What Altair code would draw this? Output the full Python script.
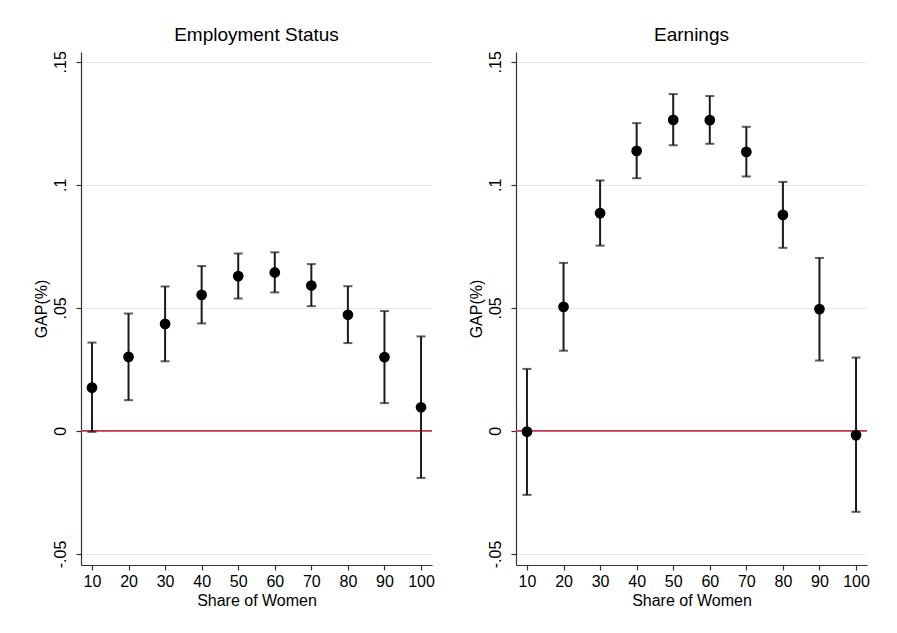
import altair as alt
import pandas as pd

share = [10, 20, 30, 40, 50, 60, 70, 80, 90, 100]

emp_est = [0.0176, 0.0301, 0.0435, 0.0553, 0.0629, 0.0644, 0.0591, 0.0472, 0.0300, 0.0096]
emp_hi = [0.0359, 0.0477, 0.0587, 0.0670, 0.0721, 0.0726, 0.0678, 0.0588, 0.0487, 0.0384]
emp_lo = [-0.0004, 0.0125, 0.0283, 0.0437, 0.0538, 0.0563, 0.0507, 0.0357, 0.0113, -0.0191]

earn_est = [-0.0003, 0.0504, 0.0885, 0.1138, 0.1264, 0.1263, 0.1134, 0.0878, 0.0495, -0.0017]
earn_hi = [0.0252, 0.0683, 0.1018, 0.1251, 0.1369, 0.1361, 0.1236, 0.1012, 0.0703, 0.0298]
earn_lo = [-0.0260, 0.0326, 0.0753, 0.1027, 0.1161, 0.1167, 0.1034, 0.0744, 0.0286, -0.0329]

y_ticks = [-0.05, 0, 0.05, 0.1, 0.15]
x_ticks = share

FONT = "Liberation Sans"

x_scale = alt.Scale(domain=[7, 103], nice=False, zero=False)
y_scale = alt.Scale(domain=[-0.0545, 0.154], nice=False, zero=False)

x_axis = alt.Axis(values=x_ticks, title="Share of Women", grid=False,
                  labelFontSize=16, titleFontSize=16, titleFontWeight="normal",
                  labelPadding=3, titlePadding=3, tickSize=5)
y_axis = alt.Axis(values=y_ticks, title="GAP(%)", grid=True, gridColor="#e3ebef",
                  gridWidth=1,
                  labelExpr="datum.value == 0 ? '0' : (datum.value < 0 ? '-' : '') + replace(format(abs(datum.value), '.2~f'), '0.', '.')",
                  labelAngle=270, labelAlign="center", labelBaseline="bottom",
                  labelFontSize=16, titleFontSize=16, titleFontWeight="normal",
                  labelPadding=8, titlePadding=3, tickSize=5)


def panel(title, est, lo, hi):
    df = pd.DataFrame({"share": share, "est": est, "lo": lo, "hi": hi})
    zero = pd.DataFrame({"z": [0.0]})
    base = alt.Chart(df)
    zero_line = alt.Chart(zero).mark_rule(color="#c8374f", strokeWidth=1.6).encode(
        y=alt.Y("z:Q", scale=y_scale, axis=y_axis)
    )
    bars = base.mark_rule(color="#1a1a1a", strokeWidth=2).encode(
        x=alt.X("share:Q", scale=x_scale, axis=x_axis),
        y=alt.Y("lo:Q", scale=y_scale, axis=y_axis),
        y2="hi:Q",
    )
    cap_lo = base.mark_tick(color="#1a1a1a", orient="horizontal", size=9, thickness=2).encode(
        x=alt.X("share:Q", scale=x_scale, axis=x_axis),
        y=alt.Y("lo:Q", scale=y_scale, axis=y_axis),
    )
    cap_hi = base.mark_tick(color="#1a1a1a", orient="horizontal", size=9, thickness=2).encode(
        x=alt.X("share:Q", scale=x_scale, axis=x_axis),
        y=alt.Y("hi:Q", scale=y_scale, axis=y_axis),
    )
    pts = base.mark_point(filled=True, color="black", size=115, opacity=1).encode(
        x=alt.X("share:Q", scale=x_scale, axis=x_axis),
        y=alt.Y("est:Q", scale=y_scale, axis=y_axis),
    )
    return alt.layer(zero_line, bars, cap_lo, cap_hi, pts).properties(
        width=351, height=513,
        title=alt.TitleParams(title, fontSize=19, fontWeight="normal", font=FONT,
                              anchor="middle", offset=6, color="black"),
    )


chart = alt.hconcat(
    panel("Employment Status", emp_est, emp_lo, emp_hi),
    panel("Earnings", earn_est, earn_lo, earn_hi),
    spacing=32,
).properties(
    padding={"left": 24, "top": 17, "right": 5, "bottom": 5},
    background="white",
).configure_view(stroke=None).configure_axis(
    labelFont=FONT, titleFont=FONT, labelColor="black", titleColor="black",
    domainColor="#333333", tickColor="#333333", domainWidth=1.2, tickWidth=1.2,
)

chart.save("out.html", embed_options={"renderer": "svg", "actions": False})
